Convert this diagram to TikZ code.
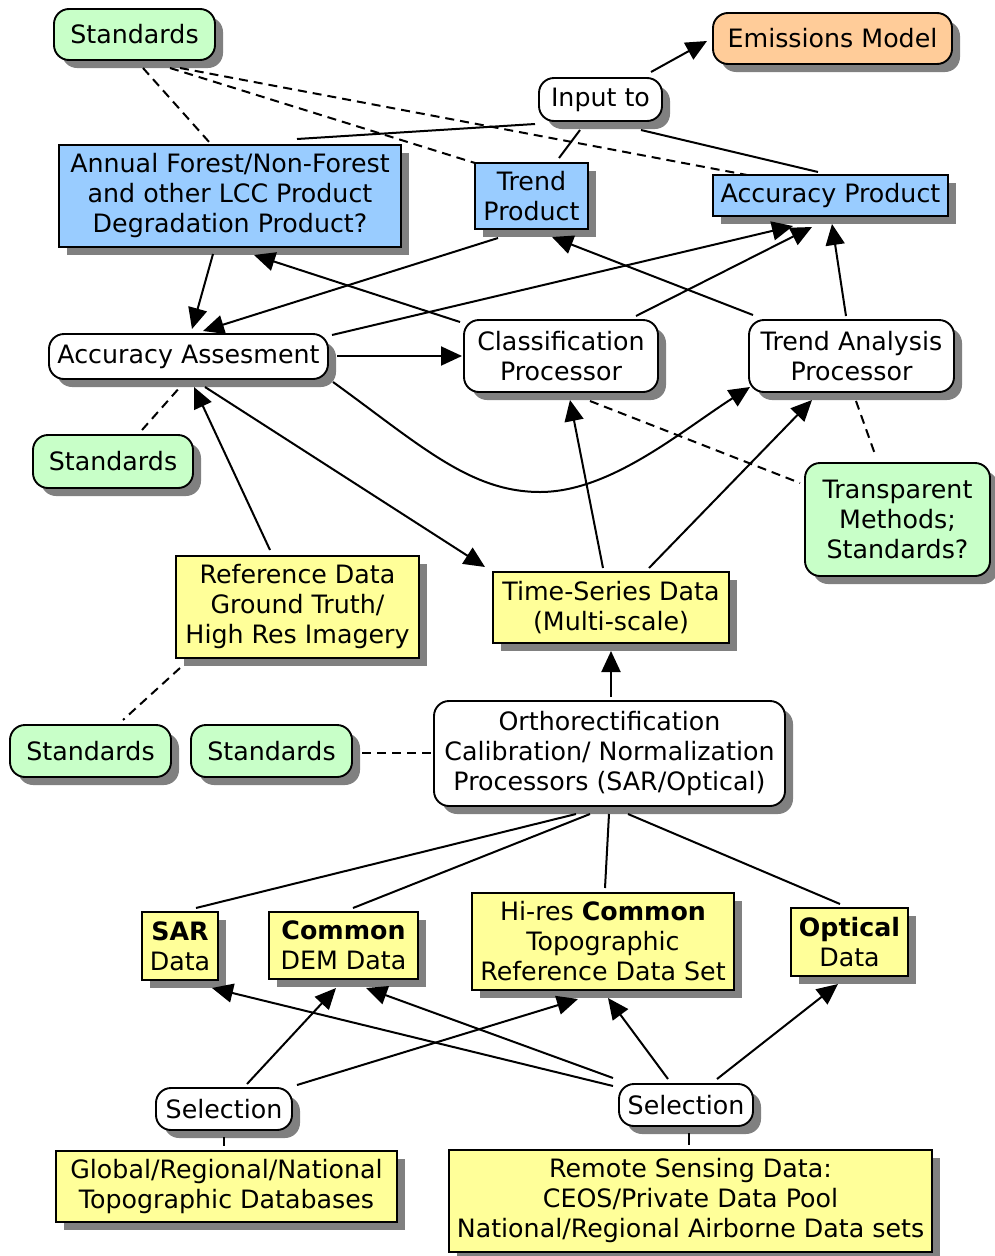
\documentclass[tikz,border=0pt]{standalone}
\usepackage{fontspec}
\setmainfont{DejaVu Sans}
\usetikzlibrary{arrows.meta,shadows}
\definecolor{grn}{HTML}{C8FFC8}
\definecolor{blu}{HTML}{99CCFF}
\definecolor{yel}{HTML}{FFFF99}
\definecolor{org}{HTML}{FFCC99}
\definecolor{shd}{HTML}{808080}
\begin{document}
\begin{tikzpicture}[x=1pt,y=-1pt,
  box/.style={draw=black,line width=1.9pt,inner sep=0pt,align=center,
    font=\fontsize{25.3}{30}\selectfont,
    general shadow={fill=shd,shadow xshift=8pt,shadow yshift=-8pt}},
  rbox/.style={box,rounded corners=15pt},
  sz/.style 2 args={minimum width=#1pt,minimum height=#2pt},
  conn/.style={line width=2pt},
  arr/.style={conn,-{Triangle[length=21pt,width=19pt]}},
  dsh/.style={conn,dash pattern=on 9pt off 6pt}]
\useasboundingbox (0,0) rectangle (994,1256);

% nodes
\node[rbox,fill=grn,sz={161}{51}] (std1) at (134.5,34.5) {Standards};
\node[rbox,fill=org,sz={239}{51}] (emis) at (832.5,38.5) {Emissions Model};
\node[rbox,fill=white,sz={123}{43}] (input) at (600.5,99.5) {Input to};
\node[box,fill=blu,sz={342}{102}] (annual) at (230,196) {Annual Forest/Non-Forest\\and other LCC Product\\Degradation Product?};
\node[box,fill=blu,sz={113}{66}] (trend) at (531.5,196) {Trend\\Product};
\node[box,fill=blu,sz={235}{41}] (accprod) at (830.5,195.5) {Accuracy Product};
\node[rbox,fill=white,sz={279}{45}] (accass) at (188.5,356.5) {Accuracy Assesment};
\node[rbox,fill=white,sz={194}{72}] (class) at (561,356) {Classification\\Processor};
\node[rbox,fill=white,sz={205}{72}] (trendan) at (851.5,356) {Trend Analysis\\Processor};
\node[rbox,fill=grn,sz={160}{53}] (std2) at (113,461.5) {Standards};
\node[rbox,fill=grn,sz={185}{113}] (transp) at (897.5,519.5) {Transparent\\Methods;\\Standards?};
\node[box,fill=yel,sz={243}{102}] (refdata) at (297.5,607) {Reference Data\\Ground Truth/\\High Res Imagery};
\node[box,fill=yel,sz={236}{71}] (ts) at (611,607.5) {Time-Series Data\\(Multi-scale)};
\node[rbox,fill=grn,sz={161}{52}] (std3) at (90.5,751) {Standards};
\node[rbox,fill=grn,sz={161}{52}] (std4) at (271.5,751) {Standards};
\node[rbox,fill=white,sz={351}{105}] (ortho) at (609.5,753.5) {Orthorectification\\Calibration/ Normalization\\Processors (SAR/Optical)};
\node[box,fill=yel,sz={76}{68}] (sar) at (180,946) {\textbf{SAR}\\Data};
\node[box,fill=yel,sz={149}{67}] (dem) at (343.5,945.5) {\textbf{Common}\\DEM Data};
\node[box,fill=yel,sz={262}{97}] (hires) at (603,941.5) {Hi-res \textbf{Common}\\Topographic\\Reference Data Set};
\node[box,fill=yel,sz={117}{68}] (optical) at (849.5,942) {\textbf{Optical}\\Data};
\node[rbox,fill=white,sz={136}{42}] (sel1) at (224,1109) {Selection};
\node[rbox,fill=white,sz={134}{42}] (sel2) at (686,1105) {Selection};
\node[box,fill=yel,sz={341}{71}] (global) at (226.5,1186.5) {Global/Regional/National\\Topographic Databases};
\node[box,fill=yel,sz={483}{102}] (remote) at (690.5,1201) {Remote Sensing Data:\\CEOS/Private Data Pool\\National/Regional Airborne Data sets};

% dashed links
\draw[dsh] ([shift={(8.5,33.5)}]std1.center) -- ([shift={(-20,-53)}]annual.center);
\draw[dsh] ([shift={(35.5,33.5)}]std1.center) -- ([shift={(-56.5,-33)}]trend.center);
\draw[dsh] ([shift={(45.5,33.5)}]std1.center) -- ([shift={(-83.5,-20.5)}]accprod.center);
\draw[dsh] ([shift={(29,-31.5)}]std2.center) -- ([shift={(-7.5,29.5)}]accass.center);
\draw[dsh] ([shift={(29,45)}]class.center) -- ([shift={(-97.5,-36.5)}]transp.center);
\draw[dsh] ([shift={(4.5,45)}]trendan.center) -- ([shift={(-21.5,-62.5)}]transp.center);
\draw[dsh] ([shift={(-117.5,61)}]refdata.center) -- ([shift={(32.5,-31)}]std3.center);
\draw[dsh] ([shift={(90.5,2)}]std4.center) -- ([shift={(-177.5,-0.5)}]ortho.center);

% solid links from Input to
\draw[conn] ([shift={(-65.5,24.5)}]input.center) -- ([shift={(67,-57)}]annual.center);
\draw[conn] ([shift={(-20.5,30.5)}]input.center) -- ([shift={(27.5,-38)}]trend.center);
\draw[conn] ([shift={(40.5,30.5)}]input.center) -- ([shift={(-12.5,-23.5)}]accprod.center);
\draw[arr] ([shift={(50.5,-27.5)}]input.center) -- ([shift={(-125.5,2.5)}]emis.center);

% arrows upper area
\draw[arr] ([shift={(-17,58)}]annual.center) -- ([shift={(3.5,-27.5)}]accass.center);
\draw[arr] ([shift={(-33.5,42)}]trend.center) -- ([shift={(14.5,-25.5)}]accass.center);
\draw[arr] ([shift={(143.5,-21.5)}]accass.center) -- ([shift={(-37.5,30.5)}]accprod.center);
\draw[arr] ([shift={(75,-40)}]class.center) -- ([shift={(-18.5,31.5)}]accprod.center);
\draw[arr] ([shift={(-5.5,-40)}]trendan.center) -- ([shift={(1.5,28.5)}]accprod.center);
\draw[arr] ([shift={(-101,-34)}]class.center) -- ([shift={(24,59)}]annual.center);
\draw[arr] ([shift={(-98.5,-41)}]trendan.center) -- ([shift={(20.5,41)}]trend.center);
\draw[arr] ([shift={(148.5,-0.5)}]accass.center) -- ([shift={(-99,0)}]class.center);
\draw[arr] ([shift={(144.5,25.5)}]accass.center) .. controls (420,445) and (470,492) .. (540,492)
   .. controls (610,492) and (680,432) .. ([shift={(-101.5,31)}]trendan.center);
\draw[arr] ([shift={(16.5,30.5)}]accass.center) -- ([shift={(-126,-40.5)}]ts.center);
\draw[arr] ([shift={(-27.5,-57)}]refdata.center) -- ([shift={(5.5,30.5)}]accass.center);
\draw[arr] ([shift={(-8,-39.5)}]ts.center) -- ([shift={(9,44)}]class.center);
\draw[arr] ([shift={(38,-39.5)}]ts.center) -- ([shift={(-39.5,44)}]trendan.center);
\draw[arr] ([shift={(1.5,-56.5)}]ortho.center) -- ([shift={(0,43.5)}]ts.center);

% ortho to data
\draw[conn] ([shift={(-33.5,60.5)}]ortho.center) -- ([shift={(16,-38)}]sar.center);
\draw[conn] ([shift={(-19.5,60.5)}]ortho.center) -- ([shift={(9.5,-37.5)}]dem.center);
\draw[conn] ([shift={(-0.5,60.5)}]ortho.center) -- ([shift={(2,-53.5)}]hires.center);
\draw[conn] ([shift={(18.5,60.5)}]ortho.center) -- ([shift={(-9.5,-38)}]optical.center);

% selections
\draw[arr] ([shift={(23,-25)}]sel1.center) -- ([shift={(-7.5,42.5)}]dem.center);
\draw[arr] ([shift={(73,-24)}]sel1.center) -- ([shift={(-25,57.5)}]hires.center);
\draw[arr] ([shift={(-73,-19)}]sel2.center) -- ([shift={(32,42)}]sar.center);
\draw[arr] ([shift={(-73,-27)}]sel2.center) -- ([shift={(22.5,42.5)}]dem.center);
\draw[arr] ([shift={(-18,-26)}]sel2.center) -- ([shift={(5,56.5)}]hires.center);
\draw[arr] ([shift={(31,-26)}]sel2.center) -- ([shift={(-11.5,42)}]optical.center);
\draw[conn] ([shift={(0,28)}]sel1.center) -- ([shift={(-2.5,-40.5)}]global.center);
\draw[conn] ([shift={(3,28)}]sel2.center) -- ([shift={(-1.5,-56)}]remote.center);
\end{tikzpicture}
\end{document}
